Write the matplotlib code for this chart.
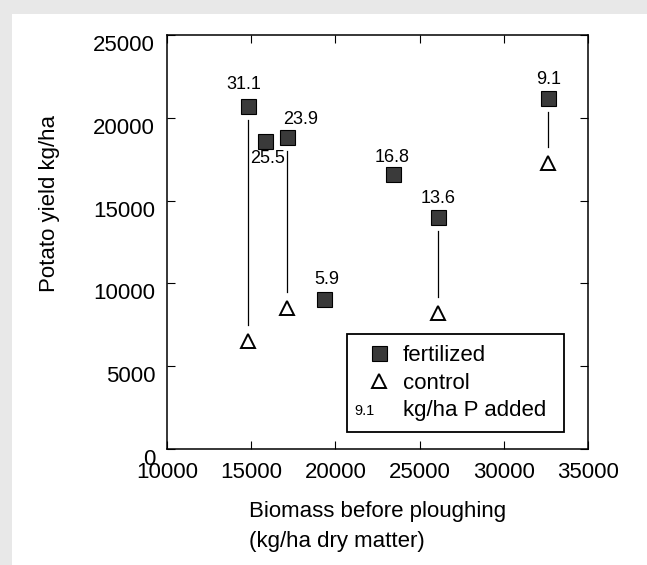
import numpy as np
import matplotlib
matplotlib.use('Agg')
import matplotlib.pyplot as plt
import matplotlib.transforms as mtransforms
from matplotlib.patches import Rectangle
from matplotlib.text import Text
from matplotlib.lines import Line2D
from matplotlib.legend_handler import HandlerBase

plt.rcParams['font.family'] = ['Liberation Sans', 'DejaVu Sans']

# biomass before ploughing (kg/ha) and potato yield (kg/ha)
x_fert = np.array([14800, 15800, 17150, 19350, 23400, 26100, 32600])
y_fert = np.array([20700, 18600, 18850, 9050, 16600, 14000, 21200])
p_added = ['31.1', '25.5', '23.9', '5.9', '16.8', '13.6', '9.1']

x_ctrl = np.array([14800, 17150, 26100, 32600])
y_ctrl = np.array([6500, 8500, 8200, 17250])

xticks = [10000, 15000, 20000, 25000, 30000, 35000]
yticks = [0, 5000, 10000, 15000, 20000, 25000]

# label offsets in pixels (dx, dy)
lab_off = [(-4, 22), (3, -18), (13, 17), (2, 20), (-1, 17), (0, 19), (1, 18)]


class HandlerLabel(HandlerBase):
    # draws a small number instead of a marker in the legend
    def create_artists(self, legend, orig_handle, xdescent, ydescent,
                       width, height, fontsize, trans):
        t = Text(-xdescent - 3, -ydescent + height / 2 - 1.5, orig_handle.get_text(),
                 ha='left', va='center', fontsize=10.5, transform=trans)
        return [t]


fig = plt.figure(figsize=(6.47, 5.65), dpi=100)
fig.patch.set_facecolor('#e8e8e8')
fig.patches.append(Rectangle((12 / 647, 0), 1, 1 - 14 / 565, transform=fig.transFigure,
                             facecolor='white', edgecolor='none', zorder=-5))

ax = fig.add_axes([167 / 647, 1 - 449 / 565, 421 / 647, 414 / 565])
ax.set_zorder(2)

# vertical lines between fertilized and control plots
gap_top, gap_bot = 850, 1000
for xc, yc in zip(x_ctrl, y_ctrl):
    i = list(x_fert).index(xc)
    ax.plot([xc, xc], [yc + gap_bot, y_fert[i] - gap_top], color='black', lw=0.9)

ax.plot(x_fert, y_fert, 's', ms=10.8, mfc='#3a3a3a', mec='black', mew=0.8, ls='none')
ax.plot(x_ctrl, y_ctrl, '^', ms=10.5, mfc='white', mec='black', mew=1.4, ls='none')

for xf, yf, lab, (dx, dy) in zip(x_fert, y_fert, p_added, lab_off):
    ax.annotate(lab, (xf, yf), xytext=(dx * 0.72, dy * 0.72), textcoords='offset points',
                ha='center', va='center', fontsize=13)

ax.set_xlim(10000, 35000)
ax.set_ylim(0, 25000)
ax.tick_params(direction='in', length=6, width=0.8, top=True, right=True,
               labelsize=16)
ax.tick_params(axis='x', pad=9.5)
ax.tick_params(axis='y', pad=8.5)
ax.set_xticks(xticks)
ax.set_yticks(yticks)
off = mtransforms.ScaledTranslation(0, -0.08, fig.dpi_scale_trans)
for lbl in ax.get_yticklabels():
    lbl.set_transform(lbl.get_transform() + off)
for sp in ax.spines.values():
    sp.set_linewidth(1.1)

ax.set_ylabel('Potato yield kg/ha', fontsize=16)
ax.yaxis.set_label_coords(-0.254, 0.593)
ax.set_xlabel('Biomass before ploughing\n(kg/ha dry matter)', fontsize=16,
              ha='left', multialignment='left', linespacing=1.55)
ax.xaxis.set_label_coords(0.195, -0.125)

handles = [Line2D([], [], marker='s', ls='none', ms=10.8, mfc='#3a3a3a', mec='black', mew=0.8),
           Line2D([], [], marker='^', ls='none', ms=10.5, mfc='white', mec='black', mew=1.4),
           Text(0, 0, '9.1')]
labels = ['fertilized', 'control', 'kg/ha P added']
leg = ax.legend(handles, labels, loc='upper left', bbox_to_anchor=(0.4276, 0.029, 0.5154, 0.249),
                mode='expand', borderaxespad=0, fontsize=16, fancybox=False,
                edgecolor='black', framealpha=1, borderpad=0.5, handlelength=1.87,
                handletextpad=0.15, labelspacing=0.3,
                handler_map={Text: HandlerLabel()})
leg.get_frame().set_linewidth(1.3)

fig.savefig('out.png', dpi=100, facecolor=fig.get_facecolor())
